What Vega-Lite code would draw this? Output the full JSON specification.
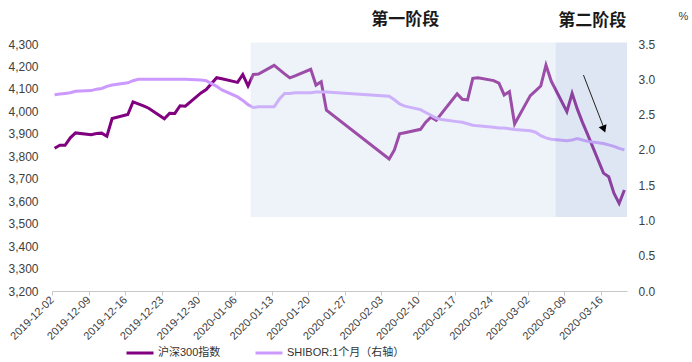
{
  "$schema": "https://vega.github.io/schema/vega-lite/v6.json",
  "width": 575,
  "height": 247,
  "autosize": "none",
  "padding": {"left": 52, "top": 44, "right": 65, "bottom": 71},
  "background": "white",
  "config": {
    "view": {"stroke": null},
    "font": "Liberation Sans, Noto Sans CJK SC",
    "axis": {"grid": false, "labelFont": "Liberation Sans, Noto Sans CJK SC", "labelColor": "#404040", "labelFontSize": 12},
    "legend": {"labelFont": "Liberation Sans, Noto Sans CJK SC"}
  },
  "datasets": {
    "csi": [
      {"date": "2019-12-02T12:00Z", "v": 3836}, {"date": "2019-12-03T12:00Z", "v": 3849}, {"date": "2019-12-04T12:00Z", "v": 3849},
      {"date": "2019-12-05T12:00Z", "v": 3882}, {"date": "2019-12-06T12:00Z", "v": 3904}, {"date": "2019-12-09T12:00Z", "v": 3896},
      {"date": "2019-12-10T12:00Z", "v": 3901}, {"date": "2019-12-11T12:00Z", "v": 3903}, {"date": "2019-12-12T12:00Z", "v": 3889},
      {"date": "2019-12-13T12:00Z", "v": 3968}, {"date": "2019-12-16T12:00Z", "v": 3986}, {"date": "2019-12-17T12:00Z", "v": 4042},
      {"date": "2019-12-18T12:00Z", "v": 4033}, {"date": "2019-12-19T12:00Z", "v": 4024}, {"date": "2019-12-20T12:00Z", "v": 4014},
      {"date": "2019-12-23T12:00Z", "v": 3967}, {"date": "2019-12-24T12:00Z", "v": 3992}, {"date": "2019-12-25T12:00Z", "v": 3991},
      {"date": "2019-12-26T12:00Z", "v": 4025}, {"date": "2019-12-27T12:00Z", "v": 4023}, {"date": "2019-12-30T12:00Z", "v": 4082},
      {"date": "2019-12-31T12:00Z", "v": 4097}, {"date": "2020-01-02T12:00Z", "v": 4150}, {"date": "2020-01-03T12:00Z", "v": 4145},
      {"date": "2020-01-06T12:00Z", "v": 4129}, {"date": "2020-01-07T12:00Z", "v": 4164}, {"date": "2020-01-08T12:00Z", "v": 4113},
      {"date": "2020-01-09T12:00Z", "v": 4164}, {"date": "2020-01-10T12:00Z", "v": 4166}, {"date": "2020-01-13T12:00Z", "v": 4205},
      {"date": "2020-01-14T12:00Z", "v": 4186}, {"date": "2020-01-15T12:00Z", "v": 4167}, {"date": "2020-01-16T12:00Z", "v": 4149},
      {"date": "2020-01-17T12:00Z", "v": 4158}, {"date": "2020-01-20T12:00Z", "v": 4187}, {"date": "2020-01-21T12:00Z", "v": 4117},
      {"date": "2020-01-22T12:00Z", "v": 4132}, {"date": "2020-01-23T12:00Z", "v": 4005}, {"date": "2020-02-04T12:00Z", "v": 3788},
      {"date": "2020-02-05T12:00Z", "v": 3828}, {"date": "2020-02-06T12:00Z", "v": 3900}, {"date": "2020-02-07T12:00Z", "v": 3905},
      {"date": "2020-02-10T12:00Z", "v": 3920}, {"date": "2020-02-11T12:00Z", "v": 3952}, {"date": "2020-02-12T12:00Z", "v": 3974},
      {"date": "2020-02-13T12:00Z", "v": 3960}, {"date": "2020-02-14T12:00Z", "v": 3990}, {"date": "2020-02-17T12:00Z", "v": 4078},
      {"date": "2020-02-18T12:00Z", "v": 4054}, {"date": "2020-02-19T12:00Z", "v": 4051}, {"date": "2020-02-20T12:00Z", "v": 4147},
      {"date": "2020-02-21T12:00Z", "v": 4150}, {"date": "2020-02-24T12:00Z", "v": 4137}, {"date": "2020-02-25T12:00Z", "v": 4126},
      {"date": "2020-02-26T12:00Z", "v": 4073}, {"date": "2020-02-27T12:00Z", "v": 4088}, {"date": "2020-02-28T12:00Z", "v": 3944},
      {"date": "2020-03-02T12:00Z", "v": 4070}, {"date": "2020-03-03T12:00Z", "v": 4091}, {"date": "2020-03-04T12:00Z", "v": 4113},
      {"date": "2020-03-05T12:00Z", "v": 4206}, {"date": "2020-03-06T12:00Z", "v": 4135}, {"date": "2020-03-09T12:00Z", "v": 3999},
      {"date": "2020-03-10T12:00Z", "v": 4080}, {"date": "2020-03-11T12:00Z", "v": 4010}, {"date": "2020-03-12T12:00Z", "v": 3950},
      {"date": "2020-03-13T12:00Z", "v": 3895}, {"date": "2020-03-16T12:00Z", "v": 3725}, {"date": "2020-03-17T12:00Z", "v": 3709},
      {"date": "2020-03-18T12:00Z", "v": 3636}, {"date": "2020-03-19T12:00Z", "v": 3590}, {"date": "2020-03-20T12:00Z", "v": 3650}
    ],
    "shibor": [
      {"date": "2019-12-02T12:00Z", "r": 2.78}, {"date": "2019-12-03T12:00Z", "r": 2.79}, {"date": "2019-12-04T12:00Z", "r": 2.80},
      {"date": "2019-12-05T12:00Z", "r": 2.81}, {"date": "2019-12-06T12:00Z", "r": 2.83}, {"date": "2019-12-09T12:00Z", "r": 2.84},
      {"date": "2019-12-10T12:00Z", "r": 2.86}, {"date": "2019-12-11T12:00Z", "r": 2.87}, {"date": "2019-12-12T12:00Z", "r": 2.90},
      {"date": "2019-12-13T12:00Z", "r": 2.92}, {"date": "2019-12-16T12:00Z", "r": 2.95}, {"date": "2019-12-17T12:00Z", "r": 2.98},
      {"date": "2019-12-18T12:00Z", "r": 3.00}, {"date": "2019-12-19T12:00Z", "r": 3.00}, {"date": "2019-12-20T12:00Z", "r": 3.00},
      {"date": "2019-12-23T12:00Z", "r": 3.00}, {"date": "2019-12-24T12:00Z", "r": 3.00}, {"date": "2019-12-25T12:00Z", "r": 3.00},
      {"date": "2019-12-26T12:00Z", "r": 3.00}, {"date": "2019-12-27T12:00Z", "r": 3.00}, {"date": "2019-12-30T12:00Z", "r": 2.99},
      {"date": "2019-12-31T12:00Z", "r": 2.98}, {"date": "2020-01-02T12:00Z", "r": 2.90}, {"date": "2020-01-03T12:00Z", "r": 2.85},
      {"date": "2020-01-06T12:00Z", "r": 2.75}, {"date": "2020-01-07T12:00Z", "r": 2.70}, {"date": "2020-01-08T12:00Z", "r": 2.64},
      {"date": "2020-01-09T12:00Z", "r": 2.60}, {"date": "2020-01-10T12:00Z", "r": 2.61}, {"date": "2020-01-13T12:00Z", "r": 2.61},
      {"date": "2020-01-14T12:00Z", "r": 2.72}, {"date": "2020-01-15T12:00Z", "r": 2.80}, {"date": "2020-01-16T12:00Z", "r": 2.80},
      {"date": "2020-01-17T12:00Z", "r": 2.81}, {"date": "2020-01-20T12:00Z", "r": 2.81}, {"date": "2020-01-21T12:00Z", "r": 2.82},
      {"date": "2020-01-22T12:00Z", "r": 2.82}, {"date": "2020-01-23T12:00Z", "r": 2.82}, {"date": "2020-02-04T12:00Z", "r": 2.76},
      {"date": "2020-02-05T12:00Z", "r": 2.71}, {"date": "2020-02-06T12:00Z", "r": 2.65}, {"date": "2020-02-07T12:00Z", "r": 2.62},
      {"date": "2020-02-10T12:00Z", "r": 2.57}, {"date": "2020-02-11T12:00Z", "r": 2.53}, {"date": "2020-02-12T12:00Z", "r": 2.49},
      {"date": "2020-02-13T12:00Z", "r": 2.45}, {"date": "2020-02-14T12:00Z", "r": 2.43}, {"date": "2020-02-17T12:00Z", "r": 2.40},
      {"date": "2020-02-18T12:00Z", "r": 2.39}, {"date": "2020-02-19T12:00Z", "r": 2.37}, {"date": "2020-02-20T12:00Z", "r": 2.35},
      {"date": "2020-02-21T12:00Z", "r": 2.34}, {"date": "2020-02-24T12:00Z", "r": 2.32}, {"date": "2020-02-25T12:00Z", "r": 2.31},
      {"date": "2020-02-26T12:00Z", "r": 2.31}, {"date": "2020-02-27T12:00Z", "r": 2.30}, {"date": "2020-02-28T12:00Z", "r": 2.29},
      {"date": "2020-03-02T12:00Z", "r": 2.27}, {"date": "2020-03-03T12:00Z", "r": 2.25}, {"date": "2020-03-04T12:00Z", "r": 2.20},
      {"date": "2020-03-05T12:00Z", "r": 2.17}, {"date": "2020-03-06T12:00Z", "r": 2.15}, {"date": "2020-03-09T12:00Z", "r": 2.13},
      {"date": "2020-03-10T12:00Z", "r": 2.14}, {"date": "2020-03-11T12:00Z", "r": 2.16}, {"date": "2020-03-12T12:00Z", "r": 2.14},
      {"date": "2020-03-13T12:00Z", "r": 2.12}, {"date": "2020-03-16T12:00Z", "r": 2.09}, {"date": "2020-03-17T12:00Z", "r": 2.07},
      {"date": "2020-03-18T12:00Z", "r": 2.05}, {"date": "2020-03-19T12:00Z", "r": 2.02}, {"date": "2020-03-20T12:00Z", "r": 2.00}
    ],
    "stages": [
      {"date": "2020-01-09T00:00Z", "end": "2020-03-07T08:00Z", "lo": 3530, "hi": 4307, "stage": "一"},
      {"date": "2020-03-07T08:00Z", "end": "2020-03-21T00:00Z", "lo": 3530, "hi": 4307, "stage": "二"}
    ],
    "titles": [
      {"date": "2020-02-07T14:00Z", "v": 4407, "label": "第一阶段"},
      {"date": "2020-03-14T08:00Z", "v": 4401, "label": "第二阶段"}
    ],
    "arrow": [
      {"date": "2020-03-12T16:00Z", "end": "2020-03-16T10:00Z", "v": 4162, "v2": 3936}
    ],
    "arrowhead": [
      {"date": "2020-03-16T14:00Z", "v": 3921}
    ]
  },
  "encoding": {
    "x": {
      "field": "date", "type": "temporal", "title": null,
      "scale": {"type": "utc", "domain": [1575244800000, 1584748800000]},
      "axis": {
        "values": [1575244800000, 1575849600000, 1576454400000, 1577059200000, 1577664000000, 1578268800000, 1578873600000, 1579478400000, 1580083200000, 1580688000000, 1581292800000, 1581897600000, 1582502400000, 1583107200000, 1583712000000, 1584316800000],
        "labelExpr": "utcFormat(datum.value, '%Y-%m-%d')",
        "labelAngle": -45, "labelAlign": "right", "labelBaseline": "middle",
        "labelFontSize": 11, "labelPadding": 3,
        "domainColor": "#c8c8c8", "tickColor": "#c8c8c8", "tickSize": 4,
        "labelOverlap": false, "labelFlush": false
      }
    }
  },
  "layer": [
    {
      "data": {"name": "csi"},
      "mark": {"type": "line", "strokeWidth": 3, "strokeJoin": "miter"},
      "encoding": {
        "y": {
          "field": "v", "type": "quantitative", "title": null,
          "scale": {"domain": [3200, 4300], "nice": false, "zero": false},
          "axis": {
            "values": [3200, 3300, 3400, 3500, 3600, 3700, 3800, 3900, 4000, 4100, 4200, 4300],
            "format": ",d", "domain": false, "ticks": false, "labelPadding": 14
          }
        },
        "color": {
          "datum": "沪深300指数",
          "scale": {"domain": ["沪深300指数", "SHIBOR:1个月（右轴）"], "range": ["#800080", "#cc99ff"]},
          "legend": {
            "title": null, "orient": "none", "direction": "horizontal",
            "legendX": 73, "legendY": 294,
            "symbolType": "stroke", "symbolSize": 729, "symbolStrokeWidth": 3,
            "labelFontSize": 11, "labelColor": "#333333", "labelOffset": 3,
            "columnPadding": 28
          }
        }
      }
    },
    {
      "data": {"name": "shibor"},
      "mark": {"type": "line", "strokeWidth": 3},
      "encoding": {
        "y": {
          "field": "r", "type": "quantitative", "title": "%",
          "scale": {"domain": [0, 3.5], "nice": false, "zero": true},
          "axis": {
            "orient": "right", "values": [0, 0.5, 1, 1.5, 2, 2.5, 3, 3.5], "format": ".1f",
            "domain": false, "ticks": false, "labelPadding": 11,
            "titleAngle": 0, "titleX": 56, "titleY": -28, "titleFontSize": 11,
            "titleFontWeight": "normal", "titleColor": "#404040", "titleAlign": "center", "titleBaseline": "middle"
          }
        },
        "color": {"datum": "SHIBOR:1个月（右轴）"}
      }
    },
    {
      "layer": [
        {
          "data": {"name": "stages"},
          "mark": {"type": "rect", "opacity": 0.35},
          "encoding": {
            "x2": {"field": "end"},
            "y": {"field": "lo", "type": "quantitative", "title": null, "scale": {"domain": [3200, 4300], "nice": false, "zero": false}, "axis": null},
            "y2": {"field": "hi"},
            "fill": {"field": "stage", "type": "nominal", "scale": {"domain": ["一", "二"], "range": ["#cedcf1", "#a4b8dd"]}, "legend": null}
          }
        },
        {
          "data": {"name": "arrow"},
          "mark": {"type": "rule", "color": "#222222", "strokeWidth": 1},
          "encoding": {
            "x2": {"field": "end"},
            "y": {"field": "v", "type": "quantitative", "title": null},
            "y2": {"field": "v2"}
          }
        },
        {
          "data": {"name": "arrowhead"},
          "mark": {"type": "point", "shape": "triangle-down", "filled": true, "color": "#000000", "size": 70, "angle": -21, "opacity": 1},
          "encoding": {
            "y": {"field": "v", "type": "quantitative", "title": null}
          }
        },
        {
          "data": {"name": "titles"},
          "mark": {"type": "text", "font": "Noto Sans CJK SC", "fontSize": 17, "fontWeight": "bold", "color": "#1a1a1a", "align": "center", "baseline": "middle"},
          "encoding": {
            "y": {"field": "v", "type": "quantitative", "title": null},
            "text": {"field": "label"}
          }
        }
      ]
    }
  ],
  "resolve": {"scale": {"y": "independent"}}
}
